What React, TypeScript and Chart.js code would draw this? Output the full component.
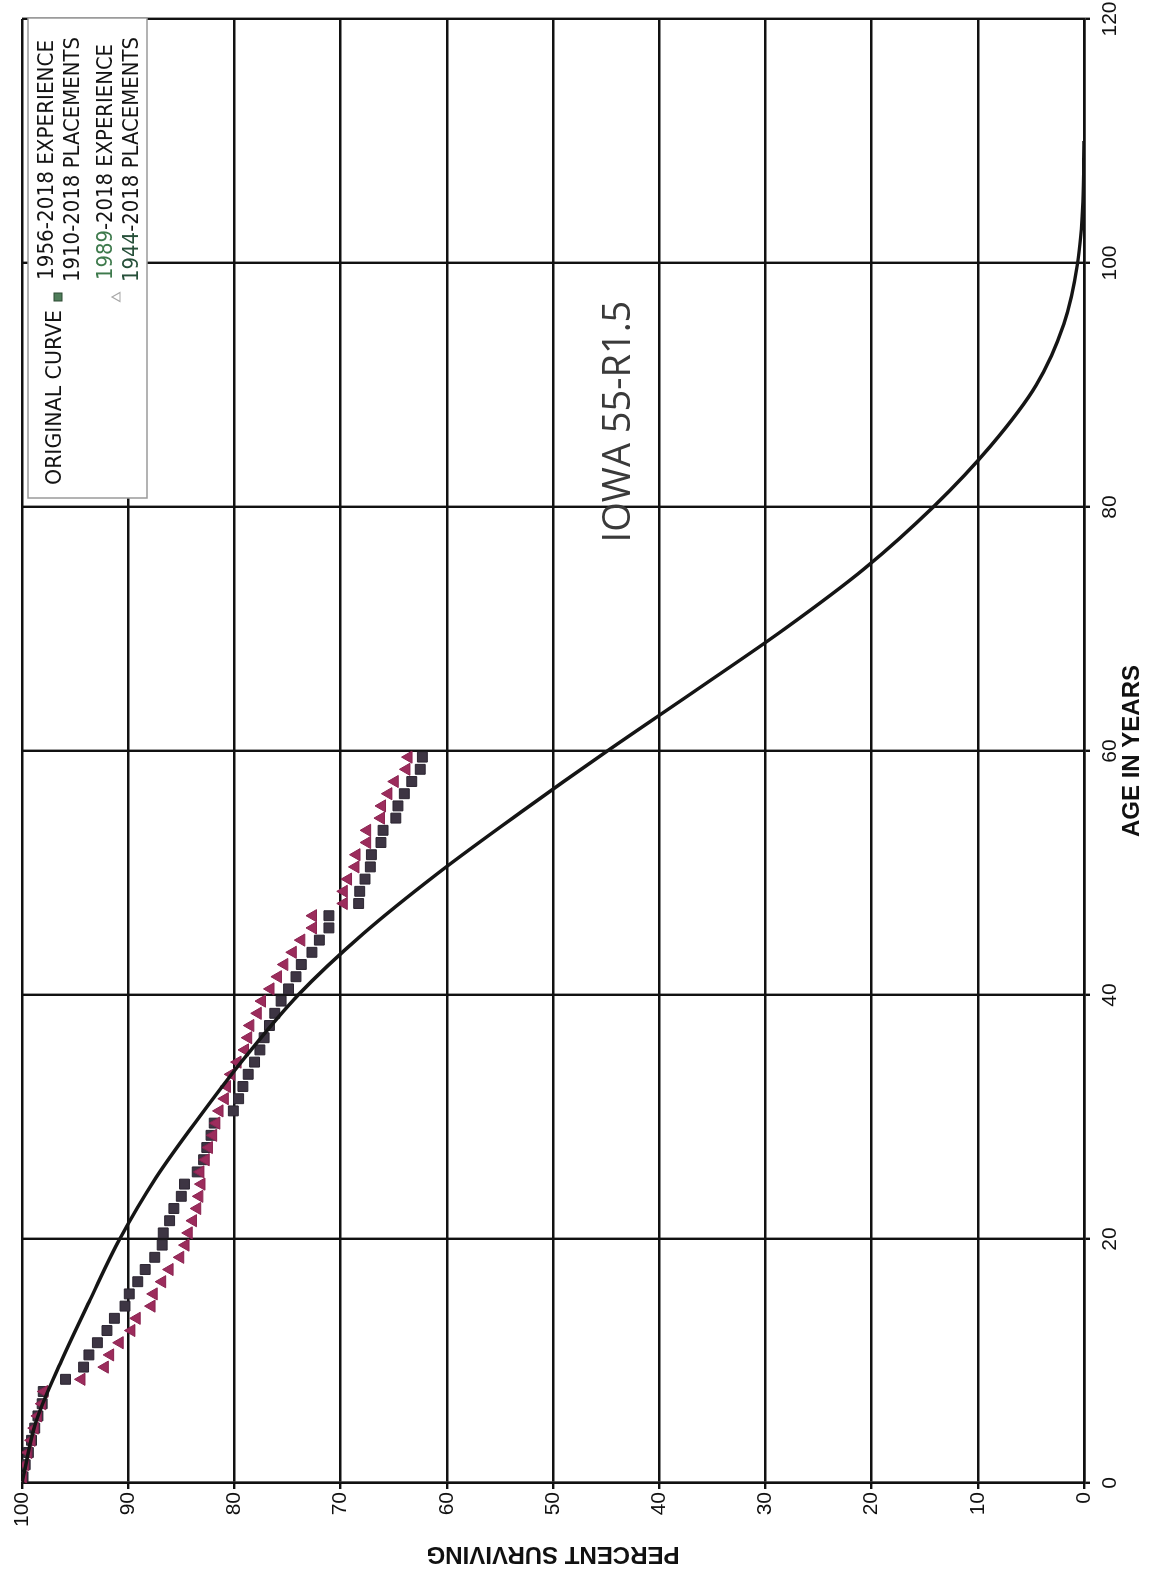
import React, { useEffect, useRef } from "react";
import { Chart, registerables } from "chart.js";

Chart.register(...registerables);

// ---- Data ----
const CURVE_AGES = [0, 5, 10, 15, 20, 25, 30, 35, 40, 45, 50, 55, 60, 65, 70, 75, 80, 85, 90, 95, 100, 105, 110];
const CURVE_PCT = [100, 98.7, 96.3, 93.6, 90.8, 87.4, 83.3, 78.9, 74.0, 67.9, 60.8, 53.0, 44.9, 36.5, 28.2, 20.6, 14.2, 8.8, 4.5, 1.9, 0.6, 0.1, 0];

const EXP_AGES = [
  0.5, 1.5, 2.5, 3.5, 4.5, 5.5, 6.5, 7.5, 8.5, 9.5,
  10.5, 11.5, 12.5, 13.5, 14.5, 15.5, 16.5, 17.5, 18.5, 19.5,
  20.5, 21.5, 22.5, 23.5, 24.5, 25.5, 26.5, 27.5, 28.5, 29.5,
  30.5, 31.5, 32.5, 33.5, 34.5, 35.5, 36.5, 37.5, 38.5, 39.5,
  40.5, 41.5, 42.5, 43.5, 44.5, 45.5, 46.5, 47.5, 48.5, 49.5,
  50.5, 51.5, 52.5, 53.5, 54.5, 55.5, 56.5, 57.5, 58.5, 59.5,
];

// 1956-2018 EXPERIENCE / 1910-2018 PLACEMENTS (squares)
const SQUARE_PCT = [
  99.9, 99.7, 99.4, 99.1, 98.8, 98.5, 98.1, 98.0, 95.9, 94.2,
  93.7, 92.9, 92.0, 91.3, 90.3, 89.9, 89.1, 88.4, 87.5, 86.8,
  86.7, 86.1, 85.7, 85.0, 84.7, 83.5, 82.9, 82.6, 82.2, 81.9,
  80.1, 79.6, 79.2, 78.7, 78.1, 77.6, 77.2, 76.7, 76.2, 75.6,
  74.9, 74.2, 73.7, 72.7, 72.0, 71.1, 71.1, 68.3, 68.2, 67.7,
  67.2, 67.1, 66.2, 66.0, 64.8, 64.6, 64.0, 63.3, 62.5, 62.3,
];

// 1989-2018 EXPERIENCE / 1944-2018 PLACEMENTS (triangles)
const TRIANGLE_PCT = [
  99.9, 99.7, 99.4, 99.1, 98.8, 98.5, 98.1, 97.9, 94.4, 92.2,
  91.7, 90.8, 89.7, 89.2, 87.8, 87.6, 86.8, 86.1, 85.1, 84.6,
  84.3, 83.9, 83.5, 83.3, 83.1, 83.2, 82.7, 82.4, 82.0, 81.7,
  81.4, 80.9, 80.7, 80.3, 79.7, 79.0, 78.7, 78.5, 77.8, 77.4,
  76.6, 75.9, 75.3, 74.5, 73.7, 72.6, 72.6, 69.7, 69.7, 69.3,
  68.6, 68.5, 67.5, 67.5, 66.2, 66.1, 65.5, 64.9, 63.8, 63.6,
];

const AGE_MIN = 0;
const AGE_MAX = 120;
const AGE_STEP = 20;
const PCT_MIN = 0;
const PCT_MAX = 100;
const PCT_STEP = 10;

const X_TITLE = "AGE IN YEARS";
const Y_TITLE = "PERCENT SURVIVING";
const CURVE_LABEL = "IOWA 55-R1.5";
const CURVE_LABEL_AGE = 77.1;
const CURVE_LABEL_PCT = 43.8;

// Unrotated canvas size (the whole figure is turned 90° counter-clockwise on the page)
const W = 1574;
const H = 1162;

type Part = [string, string];

function drawSqueezed(ctx: CanvasRenderingContext2D, parts: Part[], x: number, y: number, width: number) {
  const full = parts.map((p) => p[0]).join("");
  const natural = ctx.measureText(full).width;
  const s = width / natural;
  ctx.save();
  ctx.translate(x, y);
  ctx.scale(s, 1);
  let cx = 0;
  for (const [t, c] of parts) {
    ctx.fillStyle = c;
    ctx.fillText(t, cx, 0);
    cx += ctx.measureText(t).width;
  }
  ctx.restore();
}

const overlayPlugin = {
  id: "overlay",
  afterDraw(chart: any) {
    const ctx: CanvasRenderingContext2D = chart.ctx;
    const ca = chart.chartArea;
    const xs = chart.scales.x;
    const ys = chart.scales.y;

    // Curve annotation
    ctx.save();
    ctx.font = '38px "Open Sans", "Noto Sans", sans-serif';
    ctx.fillStyle = "#3a3a3a";
    ctx.textAlign = "left";
    ctx.textBaseline = "middle";
    ctx.fillText(CURVE_LABEL, xs.getPixelForValue(CURVE_LABEL_AGE), ys.getPixelForValue(CURVE_LABEL_PCT));
    ctx.restore();

    // Legend box (top-right corner of the plot)
    const bw = 480;
    const bh = 119;
    const bx = ca.right - bw + 1;
    const by = ca.top + 6;
    ctx.save();
    ctx.fillStyle = "#ffffff";
    ctx.fillRect(bx, by, bw, bh);
    ctx.strokeStyle = "#9a9a9a";
    ctx.lineWidth = 1.5;
    ctx.strokeRect(bx, by, bw, bh);

    ctx.font = '22px "DejaVu Sans", Verdana, sans-serif';
    ctx.textAlign = "left";
    ctx.textBaseline = "middle";
    const ink = "#141414";
    drawSqueezed(ctx, [["ORIGINAL CURVE", ink]], bx + 13, by + 27, 175);
    drawSqueezed(ctx, [["1956-2018 EXPERIENCE", ink]], bx + 218, by + 19, 240);
    drawSqueezed(ctx, [["1910-2018 PLACEMENTS", ink]], bx + 216, by + 45, 245);
    drawSqueezed(ctx, [["1989", "#3e7a4c"], ["-2018 EXPERIENCE", ink]], bx + 218, by + 78, 236);
    drawSqueezed(ctx, [["1944", "#27503a"], ["-2018 PLACEMENTS", ink]], bx + 216, by + 104, 245);

    // square marker
    const sx = bx + 201;
    const sy = by + 30;
    ctx.fillStyle = "#4f7d5a";
    ctx.fillRect(sx - 4, sy - 4, 8, 8);
    ctx.strokeStyle = "#2c4a33";
    ctx.lineWidth = 1;
    ctx.strokeRect(sx - 4, sy - 4, 8, 8);

    // triangle marker (outline)
    const tx = bx + 201;
    const ty = by + 89;
    ctx.beginPath();
    ctx.moveTo(tx, ty - 5);
    ctx.lineTo(tx + 4.5, ty + 3);
    ctx.lineTo(tx - 4.5, ty + 3);
    ctx.closePath();
    ctx.strokeStyle = "#a8a8a8";
    ctx.lineWidth = 1.2;
    ctx.stroke();
    ctx.restore();
  },
};

export default function App() {
  const ref = useRef<HTMLCanvasElement>(null);

  useEffect(() => {
    const canvas = ref.current;
    if (!canvas) return;

    const curve = CURVE_AGES.map((a, i) => ({ x: a, y: CURVE_PCT[i] }));
    const squares = EXP_AGES.map((a, i) => ({ x: a, y: SQUARE_PCT[i] }));
    const triangles = EXP_AGES.map((a, i) => ({ x: a, y: TRIANGLE_PCT[i] }));

    const gridColor = "#111111";
    const tickFont = { family: '"Liberation Sans", Arial, sans-serif', size: 21 };
    const titleFont = { family: '"Liberation Sans", Arial, sans-serif', size: 24, weight: "bold" as const };

    const chart = new Chart(canvas, {
      type: "scatter",
      data: {
        datasets: [
          {
            type: "line",
            label: "ORIGINAL CURVE",
            data: curve,
            borderColor: "#151515",
            borderWidth: 3.5,
            pointRadius: 0,
            fill: false,
            cubicInterpolationMode: "monotone",
          } as any,
          {
            label: "1989-2018 EXPERIENCE / 1944-2018 PLACEMENTS",
            data: triangles,
            pointStyle: "triangle",
            pointRadius: 7,
            backgroundColor: "#9c2c5c",
            borderColor: "#8a2350",
            borderWidth: 1,
          },
          {
            label: "1956-2018 EXPERIENCE / 1910-2018 PLACEMENTS",
            data: squares,
            pointStyle: "rect",
            pointRadius: 7,
            backgroundColor: "#3d3543",
            borderColor: "#2a2430",
            borderWidth: 1,
          },
        ],
      },
      options: {
        responsive: false,
        animation: false,
        devicePixelRatio: 1,
        layout: { padding: { left: 0, top: 22, right: 19, bottom: 0 } },
        plugins: {
          legend: { display: false },
          tooltip: { enabled: false },
          title: { display: false },
        },
        scales: {
          x: {
            type: "linear",
            min: AGE_MIN,
            max: AGE_MAX,
            ticks: {
              stepSize: AGE_STEP,
              color: "#111",
              font: tickFont,
              padding: 8,
              maxRotation: 0,
            },
            grid: { color: gridColor, lineWidth: 2.4, tickLength: 6, drawTicks: true },
            border: { display: true, color: gridColor, width: 2.4 },
            title: {
              display: true,
              text: X_TITLE,
              color: "#111",
              font: titleFont,
              padding: { top: 0, bottom: 15 },
            },
            afterFit: (scale: any) => {
              scale.height = 78;
              scale.paddingLeft = 0;
              scale.paddingRight = 0;
            },
          },
          y: {
            type: "linear",
            min: PCT_MIN,
            max: PCT_MAX,
            ticks: {
              stepSize: PCT_STEP,
              color: "#111",
              font: tickFont,
              padding: 3,
            },
            grid: { color: gridColor, lineWidth: 2.4, tickLength: 6, drawTicks: true },
            border: { display: true, color: gridColor, width: 2.4 },
            title: {
              display: true,
              text: Y_TITLE,
              color: "#111",
              font: titleFont,
              padding: { top: 6, bottom: 0 },
            },
            afterFit: (scale: any) => {
              scale.width = 91;
              scale.paddingTop = 0;
              scale.paddingBottom = 0;
            },
          },
        },
      },
      plugins: [overlayPlugin],
    });

    return () => chart.destroy();
  }, []);

  return (
    <div
      style={{
        position: "fixed",
        left: 0,
        top: 0,
        width: H,
        height: W,
        overflow: "hidden",
        background: "#ffffff",
      }}
    >
      <canvas
        ref={ref}
        width={W}
        height={H}
        style={{
          position: "absolute",
          left: 0,
          top: 0,
          width: W,
          height: H,
          transformOrigin: "0 0",
          transform: `translateY(${W}px) rotate(-90deg)`,
        }}
      />
    </div>
  );
}
